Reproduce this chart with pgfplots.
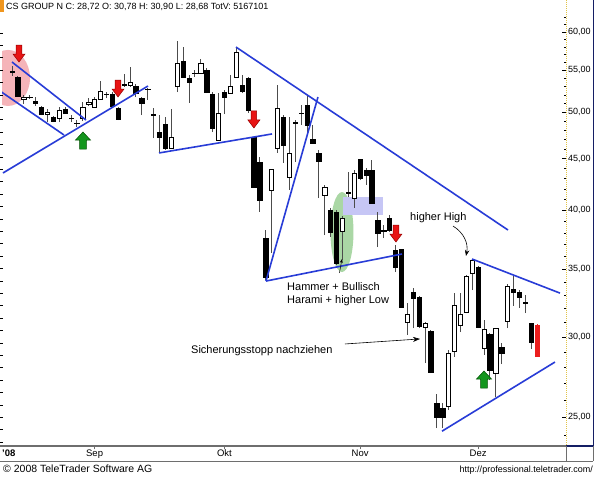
\documentclass[border=0pt]{standalone}
\usepackage{pgfplots}
\pgfplotsset{compat=1.18}
\usepackage{pgfplotstable}
\usetikzlibrary{arrows.meta}
\usepackage{fontspec}
\setmainfont{Liberation Sans}

\definecolor{trendblue}{RGB}{40,60,215}
\definecolor{pinkhl}{RGB}{245,180,185}
\definecolor{greenhl}{RGB}{170,215,165}
\definecolor{lavhl}{RGB}{198,198,245}
\definecolor{sigred}{RGB}{232,20,20}
\definecolor{sigredd}{RGB}{150,0,0}
\definecolor{siggreen}{RGB}{20,150,30}
\definecolor{siggreend}{RGB}{0,80,0}
\definecolor{lastred}{RGB}{235,30,30}
\definecolor{hdrorange}{RGB}{240,150,30}
\definecolor{axisyellow}{RGB}{225,195,70}
\definecolor{navyframe}{RGB}{20,30,100}
\definecolor{bandgray}{RGB}{110,110,110}

\newcommand\hdrfont{\fontsize{9}{11}\selectfont}
\newcommand\labfont{\fontsize{9}{11}\selectfont}
\newcommand\monfont{\fontsize{9.5}{11}\selectfont}
\newcommand\annfont{\fontsize{11}{13}\selectfont}
\newcommand\footfont{\fontsize{10.5}{12}\selectfont}

% daily candles: trading-day index, open, high, low, close
\pgfplotstableread{
i o h l c
0 54.85 55.54 54.30 54.75
1 54.17 54.30 51.80 51.88
2 51.53 52.00 50.95 51.76
3 51.76 52.00 51.53 51.70
4 51.29 51.76 50.72 51.06
5 50.60 50.72 49.68 49.79
6 49.79 50.37 48.90 50.02
7 49.45 49.57 48.90 49.00
8 49.34 50.60 48.90 50.25
9 50.37 50.60 49.80 49.90
10 49.36 49.68 48.90 49.30
11 48.80 49.12 48.35 48.75
12 49.34 51.18 49.00 50.60
13 50.95 51.64 50.72 51.18
14 50.60 51.76 50.49 51.53
15 51.53 53.68 51.41 52.47
16 52.05 52.35 51.64 52.11
17 52.11 52.35 50.60 50.72
18 50.49 50.60 49.12 49.23
19 53.25 54.54 52.95 53.19
20 53.19 55.42 52.95 53.56
21 53.07 53.31 51.76 52.23
22 51.64 51.76 49.68 51.06
23 52.65 52.83 51.41 52.71
24 49.72 50.49 47.15 49.68
25 47.80 49.68 45.58 47.26
26 48.68 49.45 45.89 46.10
27 46.10 50.37 45.99 47.26
28 53.07 58.79 52.35 55.92
29 56.17 57.98 54.05 54.17
30 54.05 54.42 51.06 53.56
31 54.60 55.04 54.17 54.66
32 54.66 56.43 54.66 55.92
33 55.04 55.29 52.23 52.35
34 52.11 52.35 47.80 48.24
35 46.94 52.23 46.83 49.90
36 52.35 52.59 49.79 51.76
37 52.23 54.42 52.23 53.07
38 54.17 57.98 54.05 57.33
39 53.19 54.42 52.23 52.47
40 54.05 54.17 49.90 50.25
41 47.26 47.30 42.10 42.19
42 44.66 45.17 39.86 40.96
43 37.57 38.26 34.15 34.38
44 41.90 43.95 36.31 43.95
45 46.10 53.19 45.58 50.49
46 49.45 49.68 44.56 46.42
47 43.16 49.45 41.90 45.58
48 48.85 49.12 44.66 48.79
49 49.85 50.83 48.57 49.90
50 50.83 52.00 47.48 48.57
51 47.05 48.57 46.62 46.62
52 45.58 45.89 41.14 44.76
53 41.43 42.38 37.83 42.19
54 40.04 40.22 37.66 38.09
55 39.86 40.04 35.33 35.50
56 38.17 39.50 35.74 39.32
57 41.68 43.65 41.24 41.62
58 41.14 43.85 40.22 43.55
59 44.96 44.96 42.86 43.05
60 43.85 44.05 42.38 43.35
61 43.85 44.86 40.68 40.68
62 39.14 39.86 36.80 37.99
63 38.20 38.70 37.57 38.17
64 39.32 39.59 38.09 38.26
65 36.56 36.98 34.77 35.17
66 36.64 36.64 32.12 32.12
67 31.04 32.41 30.14 31.61
68 33.23 33.53 30.62 32.78
69 32.85 32.93 30.62 30.76
70 30.69 31.04 28.28 30.97
71 30.41 30.48 27.64 27.71
72 25.82 26.35 24.39 25.01
73 25.53 25.82 24.39 25.01
74 25.64 29.13 25.41 28.93
75 29.06 33.15 28.67 32.27
76 30.83 33.15 30.34 31.61
77 31.75 34.54 31.68 34.46
78 34.70 35.82 33.38 35.74
79 35.17 35.25 30.62 30.69
80 29.26 31.18 28.80 30.55
81 30.20 30.27 27.20 27.83
82 27.64 30.62 26.18 30.62
83 29.33 29.60 28.21 28.93
84 31.11 33.84 30.62 33.69
85 33.46 34.54 32.20 33.23
86 33.23 33.38 32.05 32.85
87 32.45 33.00 31.68 32.41
88 30.97 30.97 29.19 29.66
89 30.78 30.90 28.68 28.72
}\candles

\pgfplotsset{
  wick/.style={line width=0.9pt},
  body/.style={line width=0.6pt},
}
\tikzset{trend/.style={draw=trendblue, line width=1.6pt}}

% one candle from row #1: wick from low to high, body from open to close
\newcommand\candle[1]{%
  \pgfplotstablegetelem{#1}{i}\of\candles\let\cI\pgfplotsretval
  \pgfplotstablegetelem{#1}{o}\of\candles\let\cO\pgfplotsretval
  \pgfplotstablegetelem{#1}{h}\of\candles\let\cH\pgfplotsretval
  \pgfplotstablegetelem{#1}{l}\of\candles\let\cL\pgfplotsretval
  \pgfplotstablegetelem{#1}{c}\of\candles\let\cC\pgfplotsretval
  \pgfmathsetmacro\xa{\cI-0.36}%
  \pgfmathsetmacro\xb{\cI+0.36}%
  \ifdim\cC pt<\cO pt\def\fc{black}\else\def\fc{white}\fi
  \def\dc{black}\def\wc{black!70}%
  \ifnum#1=89 \def\fc{lastred}\def\dc{lastred}\def\wc{lastred}\fi
  \edef\tmp{%
    \noexpand\addplot[wick,draw=\wc] coordinates {(\cI,\cL) (\cI,\cH)};%
    \noexpand\addplot[body,draw=\dc,fill=\fc] coordinates {(\xa,\cO) (\xb,\cO) (\xb,\cC) (\xa,\cC)} --cycle;%
  }\tmp
}

% sell signal: red arrow pointing down, tip at (#1,#2)
\newcommand\sellsig[2]{%
  \draw[fill=sigred,draw=sigredd,line width=0.5pt] (axis cs:#1,#2) -- ++(-6pt,8pt) -- ++(3.2pt,0pt) -- ++(0pt,9pt) -- ++(5.6pt,0pt) -- ++(0pt,-9pt) -- ++(3.2pt,0pt) -- cycle;}
% buy signal: green arrow pointing up, tip at (#1,#2)
\newcommand\buysig[2]{%
  \draw[fill=siggreen,draw=siggreend,line width=0.5pt] (axis cs:#1,#2) -- ++(-7.5pt,-8pt) -- ++(4.2pt,0pt) -- ++(0pt,-9pt) -- ++(6.6pt,0pt) -- ++(0pt,9pt) -- ++(4.2pt,0pt) -- cycle;}

\begin{document}
\begin{tikzpicture}
\fill[white] (0pt,0pt) rectangle (595pt,477pt);
\begin{axis}[
  at={(2pt,31pt)}, anchor=south west,
  scale only axis, width=564pt, height=432pt,
  xmin=-1.695, xmax=93.9,
  ymode=log, ymin=23.42, ymax=62.51,
  axis line style={draw=none},
  xtick={14,36,59,79}, xticklabels={Sep,Okt,Nov,Dez},
  xtick pos=left, xtick align=outside,
  xticklabel style={font=\monfont, anchor=base, yshift=-7.5pt},
  x tick style={bandgray, line width=0.6pt},
  ytick={25,30,35,40,45,50,55,60},
  yticklabels={{25,00},{30,00},{35,00},{40,00},{45,00},{50,00},{55,00},{60,00}},
  minor ytick={24,26,27,28,29,31,32,33,34,36,37,38,39,41,42,43,44,46,47,48,49,51,52,53,54,56,57,58,59,61,62},
  ytick pos=right, yticklabel pos=right, ytick align=inside,
  yticklabel style={font=\labfont, anchor=west, inner sep=0pt, xshift=2pt},
  y tick style={black, line width=0.6pt},
  major tick length=3.5pt, minor tick length=2pt,
]
% highlighted zones
\fill[pinkhl] (axis cs:-0.68,54.05) ellipse [x radius=22pt, y radius=28pt];
\fill[greenhl] (axis cs:55.93,38.09) ellipse [x radius=11.5pt, y radius=40pt];
\fill[lavhl] (axis cs:56.1,39.59) rectangle (axis cs:62.9,41.24);

% candles
\pgfplotsinvokeforeach{0,...,89}{\candle{#1}}

% trend lines
\draw[trend] (axis cs:0,56.04) -- (axis cs:12.54,49.12);
\draw[trend] (axis cs:-2.03,52.47) -- (axis cs:8.81,47.48);
\draw[trend] (axis cs:-1.53,43.55) -- (axis cs:23.05,53.07);
\draw[trend] (axis cs:24.92,45.58) -- (axis cs:44.07,47.59);
\draw[trend] (axis cs:37.97,57.98) -- (axis cs:84.07,38.26);
\draw[trend] (axis cs:43.05,34.07) -- (axis cs:51.86,51.76);
\draw[trend] (axis cs:43.05,34.07) -- (axis cs:66.1,36.23);
\draw[trend] (axis cs:77.97,35.82) -- (axis cs:92.88,33.15);
\draw[trend] (axis cs:72.88,24.22) -- (axis cs:92.03,28.34);

% signals
\sellsig{1.19}{56.04}
\sellsig{17.97}{51.76}
\sellsig{41.0}{48.24}
\sellsig{65.08}{37.23}
\buysig{12.03}{47.8}
\buysig{80.0}{27.77}

% notes
\node[anchor=base west, font=\annfont, inner sep=0pt] at (axis cs:46.61,33.38) {Hammer + Bullisch};
\node[anchor=base west, font=\annfont, inner sep=0pt] at (axis cs:46.61,32.38) {Harami + higher Low};
\draw[line width=0.5pt, -{Stealth[length=4pt,width=3pt]}] (axis cs:55.5,34.7) -- (axis cs:55.93,35.82);
\node[anchor=base west, font=\annfont, inner sep=0pt] at (axis cs:30.34,28.87) {Sicherungsstopp nachziehen};
\draw[line width=0.6pt, -{Stealth[length=7pt,width=5pt]}] (axis cs:56.44,29.53) -- (axis cs:69.15,29.87);
\node[anchor=base west, font=\annfont, inner sep=0pt] at (axis cs:67.46,39.14) {higher High};
\draw[line width=0.6pt, -{Stealth[length=6pt,width=4.5pt]}] (axis cs:74.75,38.61) to[bend left=35] (axis cs:76.95,36.07);
\end{axis}

\begin{scope}[x=1pt,y=1pt]
% header
\fill[hdrorange] (0,465) rectangle (4,477);
\node[anchor=base west, font=\hdrfont, inner sep=0pt] at (6,467) {CS GROUP N C: 28,72 O: 30,78 H: 30,90 L: 28,68 TotV: 5167101};
% left scale marks
\foreach \k in {0,...,33} \draw[black, line width=0.6pt] (0,{477-33-12.4*\k}) -- ++(3,0);
% value scale frame
\draw[axisyellow, line width=0.9pt, dash pattern=on 1pt off 1pt] (566,477) -- (566,31);
\draw[navyframe, line width=1.3pt] (593.3,477) -- (593.3,31) -- (566,31);
% date band
\draw[bandgray, line width=1.3pt] (0,31) -- (566,31);
\draw[bandgray, line width=0.9pt] (0,16) -- (593,16);
\draw[bandgray, line width=0.8pt] (566,31) -- (566,16);
\draw[bandgray, line width=0.8pt] (593,31) -- (593,16);
\node[anchor=base west, font=\monfont\bfseries, inner sep=0pt] at (2,20) {'08};
% footer
\node[anchor=base west, font=\footfont, inner sep=0pt] at (3,4) {\textcopyright{} 2008 TeleTrader Software AG};
\node[anchor=base east, font=\labfont, inner sep=0pt] at (593,4) {http://professional.teletrader.com/};
\end{scope}
\pgfresetboundingbox
\useasboundingbox (0pt,0pt) rectangle (595pt,477pt);
\end{tikzpicture}
\end{document}
